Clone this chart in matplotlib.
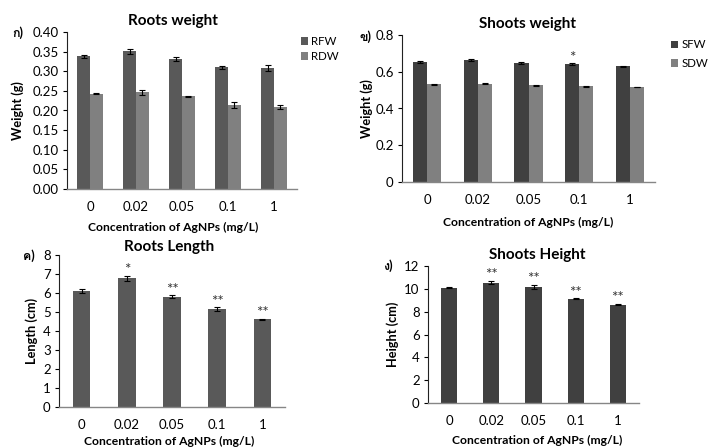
import matplotlib
matplotlib.use('Agg')
import matplotlib.pyplot as plt
from matplotlib import font_manager, ft2font
import numpy as np

# data
conc = ['0', '0.02', '0.05', '0.1', '1']

rfw = [0.338, 0.351, 0.331, 0.310, 0.308]
rfw_err = [0.004, 0.006, 0.005, 0.004, 0.007]
rdw = [0.243, 0.246, 0.236, 0.214, 0.210]
rdw_err = [0.002, 0.006, 0.002, 0.007, 0.005]

sfw = [0.654, 0.664, 0.647, 0.643, 0.631]
sfw_err = [0.005, 0.004, 0.004, 0.004, 0.003]
sdw = [0.531, 0.535, 0.527, 0.522, 0.517]
sdw_err = [0.003, 0.003, 0.003, 0.003, 0.002]
sfw_stars = ['', '', '', '*', '']

root_len = [6.10, 6.78, 5.80, 5.15, 4.62]
root_len_err = [0.12, 0.14, 0.08, 0.10, 0.03]
root_len_stars = ['', '*', '**', '**', '**']

shoot_h = [10.10, 10.55, 10.15, 9.12, 8.62]
shoot_h_err = [0.06, 0.15, 0.20, 0.05, 0.05]
shoot_h_stars = ['', '**', '**', '**', '**']

panel_tags = ['ก)', 'ข)', 'ค)', 'ง)']


def find_family(ch):
    # look for any installed font that has the glyph
    seen = set()
    for f in font_manager.fontManager.ttflist:
        if f.fname in seen:
            continue
        seen.add(f.fname)
        try:
            cmap = ft2font.FT2Font(f.fname).get_charmap()
        except Exception:
            continue
        if ord(ch) in cmap:
            return f.name
    return None


FAM = ['Lato', 'DejaVu Sans']
thai = find_family('ก')
if thai:
    FAM = ['Lato', thai, 'DejaVu Sans']
plt.rcParams['font.family'] = FAM

ROOT_DARK = '#595959'
SHOOT_DARK = '#404040'
LIGHT = '#808080'

fig = plt.figure(figsize=(7.11, 4.48), dpi=100)


def px_axes(x0, x1, y0, y1):
    return fig.add_axes([x0 / 711, 1 - y1 / 448, (x1 - x0) / 711, (y1 - y0) / 448])


def style(ax, ylim, yticks, fmt, title, ylabel, xl, yl):
    ax.set_ylim(*ylim)
    ax.set_yticks(yticks)
    ax.set_yticklabels([fmt.format(t) for t in yticks])
    ax.set_xlim(-0.5, 4.5)
    ax.set_xticks(range(5))
    ax.set_xticklabels(conc)
    for s in ['top', 'right']:
        ax.spines[s].set_visible(False)
    ax.spines['left'].set_color('#222222')
    ax.spines['left'].set_linewidth(0.8)
    ax.spines['bottom'].set_color('#868686')
    ax.spines['bottom'].set_linewidth(1.0)
    ax.tick_params(axis='y', length=3, width=0.8, labelsize=9.5, pad=3)
    ax.tick_params(axis='x', length=0, labelsize=9.5, pad=8.5)
    ax.set_title(title, fontsize=11, fontweight='bold', x=xl[0], pad=5)
    ax.set_xlabel('Concentration of AgNPs (mg/L)', fontsize=8.7, fontweight='bold', va='center')
    ax.xaxis.set_label_coords(*xl)
    ax.set_ylabel(ylabel, fontsize=9.2, fontweight='bold', va='center')
    ax.yaxis.set_label_coords(*yl)


def stars(ax, x, vals, errs, marks):
    for xi, v, e, m in zip(x, vals, errs, marks):
        if m:
            ax.annotate(m, (xi, v + e), xytext=(0, -1), textcoords='offset points',
                        ha='center', va='bottom', fontsize=11, color='#333333')


def legend(ax, anchor, spacing):
    ax.legend(loc='upper left', bbox_to_anchor=anchor, frameon=False, fontsize=8.3,
              borderpad=0, borderaxespad=0, handlelength=0.65, handleheight=0.65,
              handletextpad=0.25, labelspacing=spacing)


ekw = dict(ecolor='black', capsize=2, error_kw=dict(elinewidth=0.8, capthick=0.8))
x = np.arange(5)

# roots weight
ax1 = px_axes(67, 297, 32, 189)
w = 0.28
ax1.bar(x - w / 2, rfw, w, yerr=rfw_err, color=ROOT_DARK, label='RFW', **ekw)
ax1.bar(x + w / 2, rdw, w, yerr=rdw_err, color=LIGHT, label='RDW', **ekw)
style(ax1, (0, 0.40), np.arange(0, 0.401, 0.05), '{:.2f}', 'Roots weight', 'Weight (g)',
      (0.46, -0.248), (-0.213, 0.5))
legend(ax1, (1.017, 0.975), 0.33)

# shoots weight
ax2 = px_axes(402, 655, 35, 182)
ax2.bar(x - w / 2, sfw, w, yerr=sfw_err, color=SHOOT_DARK, label='SFW', **ekw)
ax2.bar(x + w / 2, sdw, w, yerr=sdw_err, color=LIGHT, label='SDW', **ekw)
stars(ax2, x - w / 2, sfw, sfw_err, sfw_stars)
style(ax2, (0, 0.8), np.arange(0, 0.81, 0.2), '{:g}', 'Shoots weight', 'Weight (g)',
      (0.498, -0.272), (-0.138, 0.5))
legend(ax2, (1.063, 0.97), 0.65)

# roots length
ax3 = px_axes(59, 285, 255, 407)
ax3.bar(x, root_len, 0.39, yerr=root_len_err, color=ROOT_DARK, **ekw)
stars(ax3, x, root_len, root_len_err, root_len_stars)
style(ax3, (0, 8), range(0, 9), '{:d}', 'Roots Length', 'Length (cm)',
      (0.487, -0.23), (-0.119, 0.5))
ax3.set_title('Roots Length', fontsize=11, fontweight='bold', x=0.487, pad=3)

# shoots height
ax4 = px_axes(428, 639, 266, 403)
ax4.bar(x, shoot_h, 0.38, yerr=shoot_h_err, color=SHOOT_DARK, **ekw)
stars(ax4, x, shoot_h, shoot_h_err, shoot_h_stars)
style(ax4, (0, 12), range(0, 13, 2), '{:d}', 'Shoots Height', 'Height (cm)',
      (0.517, -0.27), (-0.166, 0.5))

# panel tags
tag_pos = [(12, 33), (359, 37), (23, 256), (383, 266)]
for tag, (tx, ty) in zip(panel_tags, tag_pos):
    fig.text(tx / 711, 1 - ty / 448, tag, fontsize=9, fontweight='bold', va='center', family=FAM)

fig.savefig('out.png', dpi=100)
